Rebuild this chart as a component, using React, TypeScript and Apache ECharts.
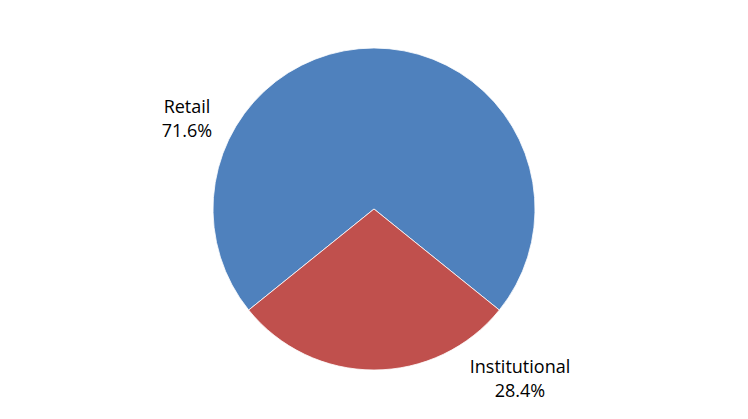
import React, { useEffect, useRef } from "react";
import * as echarts from "echarts";

const categories = ["Retail", "Institutional"];
const shares = [71.6, 28.4];
const colors = ["#4F81BD", "#C0504D"];

export default function App() {
  const ref = useRef<HTMLDivElement>(null);
  useEffect(() => {
    if (!ref.current) return;
    const chart = echarts.init(ref.current, undefined, { renderer: "svg" });
    const startAngle = 270 - (shares[1] / 100) * 180;
    const labelPos = [
      [187, 118],
      [520, 378],
    ];
    chart.setOption({
      animation: false,
      backgroundColor: "#ffffff",
      series: [
        {
          type: "pie",
          center: [374, 209],
          radius: 161,
          startAngle: startAngle,
          clockwise: true,
          data: categories.map((c, i) => ({
            name: c,
            value: shares[i],
            itemStyle: { color: colors[i] },
          })),
          itemStyle: { borderColor: "#ffffff", borderWidth: 0.8 },
          label: {
            show: true,
            position: "outside",
            formatter: (p: any) => `${p.name}\n${shares[p.dataIndex].toFixed(1)}%`,
            fontFamily: "Open Sans, Lato, sans-serif",
            fontSize: 18,
            lineHeight: 24,
            color: "#000000",
            align: "center",
          },
          labelLine: { show: false },
          labelLayout: (params: any) => ({
            x: labelPos[params.dataIndex][0],
            y: labelPos[params.dataIndex][1],
            align: "center",
            verticalAlign: "middle",
          }),
          emphasis: { disabled: true },
        },
      ],
    });
    return () => chart.dispose();
  }, []);
  return (
    <div
      ref={ref}
      style={{ position: "absolute", left: 0, top: 0, width: 748, height: 419 }}
    />
  );
}
